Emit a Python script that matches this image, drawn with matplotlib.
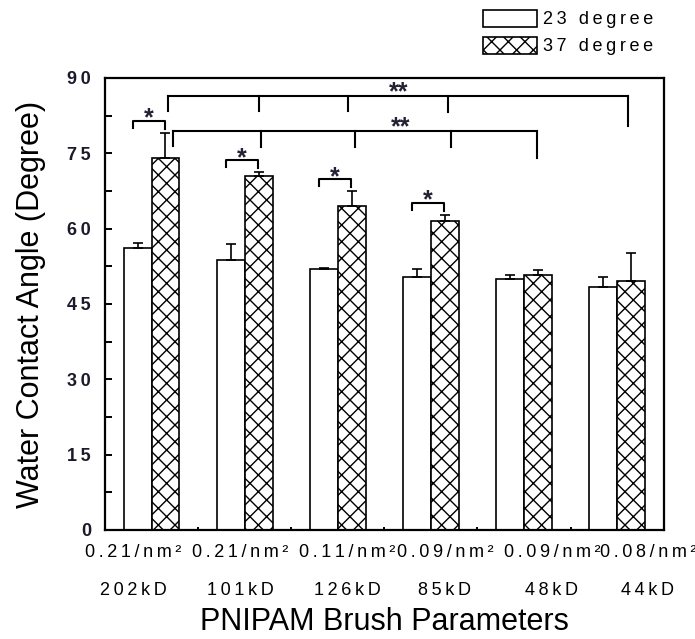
import matplotlib
matplotlib.use("Agg")
import matplotlib.pyplot as plt
import numpy as np
from matplotlib.ticker import MultipleLocator, FixedLocator, NullFormatter, FuncFormatter

plt.rcParams['font.family'] = ['Liberation Sans', 'DejaVu Sans']
plt.rcParams['hatch.linewidth'] = 1.0

# ---- data ----
density_labels = ["0.21/nm²", "0.21/nm²", "0.11/nm²", "0.09/nm²", "0.09/nm²", "0.08/nm²"]
mw_labels = ["202kD", "101kD", "126kD", "85kD", "48kD", "44kD"]
angle_23 = [56.1, 53.8, 51.9, 50.4, 50.0, 48.4]
err_23 = [1.1, 3.2, 0.3, 1.5, 0.7, 2.0]
angle_37 = [74.1, 70.4, 64.5, 61.6, 50.7, 49.6]
err_37 = [5.0, 0.8, 2.9, 1.2, 1.1, 5.6]
legend_labels = ["23 degree", "37 degree"]

TS = "\u2009"  # thin space for the loose letter spacing of the original


def spaced(s):
    return TS.join(list(s))


n = len(mw_labels)
x = np.arange(1, n + 1)
w = 0.3

fig = plt.figure(figsize=(6.95, 6.39), dpi=100)
ax = fig.add_axes([0.151, 0.1706, 0.804, 0.7074])

b1 = ax.bar(x - w / 2, angle_23, w, color='white', edgecolor='black', linewidth=1.2,
            label=spaced(legend_labels[0]), zorder=2)
b2 = ax.bar(x + w / 2, angle_37, w, color='white', edgecolor='black', linewidth=1.2,
            hatch='xx', label=spaced(legend_labels[1]), zorder=2)
ax.errorbar(x - w / 2, angle_23, yerr=[np.zeros(n), err_23], fmt='none', ecolor='black',
            elinewidth=1.2, capsize=3.5, capthick=1.2, zorder=3)
ax.errorbar(x + w / 2, angle_37, yerr=[np.zeros(n), err_37], fmt='none', ecolor='black',
            elinewidth=1.2, capsize=3.5, capthick=1.2, zorder=3)

ax.set_xlim(0.5, n + 0.5)
ax.set_ylim(0, 90)
ax.yaxis.set_major_locator(MultipleLocator(15))
ax.yaxis.set_minor_locator(MultipleLocator(7.5))
ax.yaxis.set_major_formatter(FuncFormatter(lambda v, p: spaced(f"{v:.0f}")))
ax.tick_params(axis='y', which='both', direction='in', length=5, width=1.4,
               labelsize=13, pad=10, labelcolor='#1a1a2a')
for t in ax.get_yticklabels():
    t.set_fontweight('bold')

# x: small inward ticks at group boundaries, labels placed as minor ticks
ax.xaxis.set_major_locator(FixedLocator(np.arange(1.5, n, 1.0)))
ax.xaxis.set_major_formatter(NullFormatter())
ax.tick_params(axis='x', which='major', direction='in', length=2.5, width=1.4)
label_pos = x + np.array([-0.2, -0.05, 0.1, 0.15, 0.3, 0.33])
ax.xaxis.set_minor_locator(FixedLocator(label_pos))
ax.set_xticklabels([f"{spaced(d)}\n{spaced(m)}" for d, m in zip(density_labels, mw_labels)],
                   minor=True)
ax.tick_params(axis='x', which='minor', length=0, labelsize=13, pad=10)
for t in ax.get_xticklabels(minor=True):
    t.set_linespacing(2.6)

for s in ax.spines.values():
    s.set_linewidth(1.6)

ax.set_ylabel("Water Contact Angle (Degree)", fontsize=22, labelpad=15)
ax.set_xlabel("PNIPAM Brush Parameters", fontsize=22, labelpad=6)

# ---- significance brackets ----
lw = 1.5
star_kw = dict(ha='center', va='baseline', fontsize=18, fontweight='bold', color='#222233')
for i in range(4):
    xl = x[i] - w / 2 - 0.05
    xr = x[i] + w / 2 - 0.01
    yb = angle_37[i] + err_37[i] + 2.4
    ax.plot([xl, xl, xr, xr], [yb - 1.4, yb, yb, yb - 1.6], color='black', lw=lw,
            clip_on=False, zorder=4)
    ax.text((xl + xr) / 2, yb - 1.0, "*", **star_kw)

# upper double-star bracket
yu = 86.5
ux = [x[0] + 0.18, x[1] + 0.15, x[2] + 0.11, x[3] + 0.18, x[5] + 0.12]
ub = [83.5, 83.5, 83.5, 83.2, 80.5]
ax.plot([ux[0], ux[-1]], [yu, yu], color='black', lw=lw, clip_on=False, zorder=4)
for xx, yy in zip(ux, ub):
    ax.plot([xx, xx], [yu, yy], color='black', lw=lw, clip_on=False, zorder=4)
ax.text(3.65, 85.8, "**", **star_kw)

# lower double-star bracket
yl = 79.5
lx = [x[0] + 0.23, x[1] + 0.18, x[2] + 0.18, x[3] + 0.22, x[4] + 0.14]
lb = [76.5, 76.3, 76.3, 76.3, 74.1]
ax.plot([lx[0], lx[-1]], [yl, yl], color='black', lw=lw, clip_on=False, zorder=4)
for xx, yy in zip(lx, lb):
    ax.plot([xx, xx], [yl, yy], color='black', lw=lw, clip_on=False, zorder=4)
ax.text(3.68, 78.8, "**", **star_kw)

fig.legend(handles=[b1, b2], loc='upper left', bbox_to_anchor=(0.695, 0.985),
           frameon=False, fontsize=13, handlelength=3.0, handleheight=1.1,
           handletextpad=0.3, labelspacing=0.45, borderpad=0, borderaxespad=0)

fig.savefig("out.png", dpi=100)
